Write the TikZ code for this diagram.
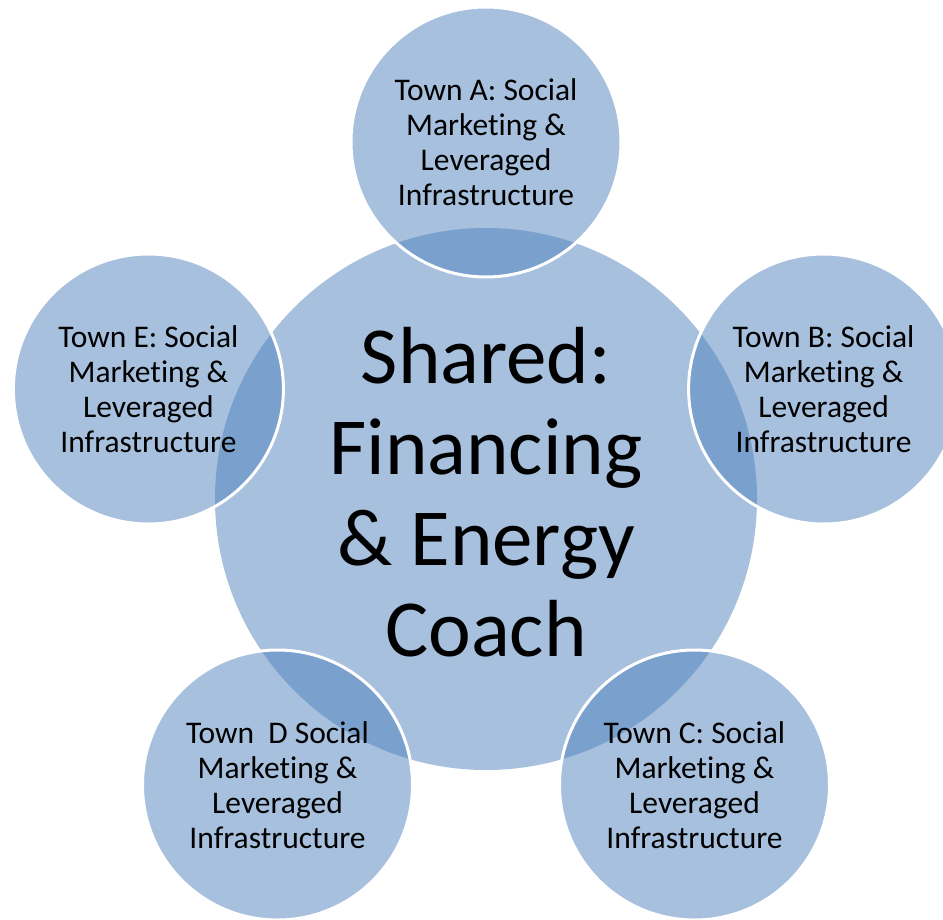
\documentclass[tikz,border=0pt]{standalone}
\usepackage{fontspec}
\setmainfont{Carlito}[Ligatures={NoCommon,NoContextual},RawFeature={-liga;-clig;-calt;-dlig}]
\begin{document}
\begin{tikzpicture}[x=1pt,y=-1pt]
\definecolor{accent}{HTML}{4F81BD}
\definecolor{hubfill}{HTML}{A7C0DE}
\tikzset{
  hub/.style={circle, fill=hubfill, minimum size=542pt, inner sep=0pt},
  hubtext/.style={align=center, font=\fontsize{81}{91}\selectfont, inner sep=0pt},
  town/.style={circle, fill=accent, fill opacity=0.5, text opacity=1, draw=white,
    line width=3pt, minimum size=270pt, inner sep=0pt, align=center,
    font=\fontsize{31.5}{35}\selectfont},
}
\useasboundingbox (0,0) rectangle (943,919);
\clip (0,0) rectangle (943,919);
\node[hub] (hub) at (486,499) {};
\node[hubtext] (hubtxt) at (486,492) {Shared:\\Financing\\\& Energy\\Coach};
\node[town] (townA) at (486,142) {Town A: Social\\Marketing \&\\Leveraged\\Infrastructure};
\node[town] (townB) at (823.6,389) {Town B: Social\\Marketing \&\\Leveraged\\Infrastructure};
\node[town] (townC) at (694.5,785) {Town C: Social\\Marketing \&\\Leveraged\\Infrastructure};
\node[town] (townD) at (277.5,785) {Town\ \ D Social\\Marketing \&\\Leveraged\\Infrastructure};
\node[town] (townE) at (148.4,389) {Town E: Social\\Marketing \&\\Leveraged\\Infrastructure};
\end{tikzpicture}
\end{document}
